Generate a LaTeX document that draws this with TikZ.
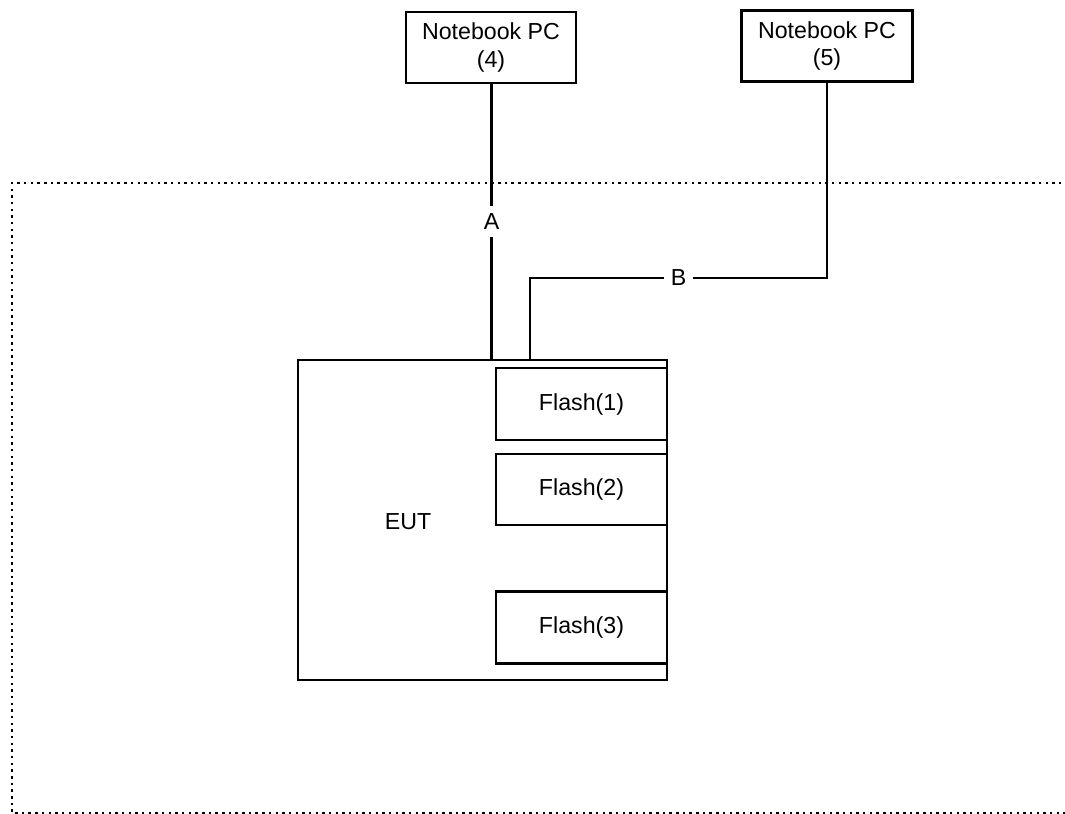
\documentclass[tikz,border=0pt]{standalone}
\usepackage{fontspec}
\setmainfont{Liberation Sans}
\usetikzlibrary{positioning}

\tikzset{
    unit/.style={draw,line width=1.4pt,rectangle,inner sep=0pt,align=center,font=\fontsize{13.2}{15.5}\selectfont},
    wire/.style={line width=1.4pt},
    tag/.style={fill=white,inner sep=4pt,font=\fontsize{13.2}{15.5}\selectfont},
    room/.style={line width=1.4pt,dash pattern=on 1.4pt off 2.4pt}
}

\begin{document}
\begin{tikzpicture}[x=0.02cm,y=-0.02cm]

    % Fix the page size
    \useasboundingbox (0,0) rectangle (1065,814);

    % Draw the test area
    \draw[room] (1068,183) -- (12,183) -- (12,813) -- (1068,813);

    % Draw the notebooks
    \node[unit,minimum width=170*0.02cm,minimum height=71*0.02cm] (pc4) at (491,47.5) {Notebook PC\\(4)};
    \node[unit,minimum width=171*0.02cm,minimum height=71*0.02cm] (pc5) at (827,46) {Notebook PC\\(5)};

    % Draw the EUT and the flash drives
    \node[unit,minimum width=369*0.02cm,minimum height=320*0.02cm] (eut) at (482.5,520) {};
    \node[font=\fontsize{13.2}{15.5}\selectfont] (eutlabel) at (408,522) {EUT};
    \node[unit,minimum width=171*0.02cm,minimum height=72*0.02cm] (flash1) at (581.5,404) {Flash(1)};
    \node[unit,minimum width=171*0.02cm,minimum height=71*0.02cm] (flash2) at (581.5,489.5) {Flash(2)};
    \node[unit,minimum width=171*0.02cm,minimum height=72*0.02cm] (flash3) at (581.5,627.5) {Flash(3)};

    % Draw the cables
    \coordinate (bturn) at (530,278);
    \draw[wire] (pc4.south -| 491.5,0) -- node[tag] {A} (491.5,0 |- eut.north);
    \draw[wire] (bturn |- eut.north) -- (bturn) -- node[tag] {B} (bturn -| pc5.south) -- (pc5.south);

\end{tikzpicture}
\end{document}
